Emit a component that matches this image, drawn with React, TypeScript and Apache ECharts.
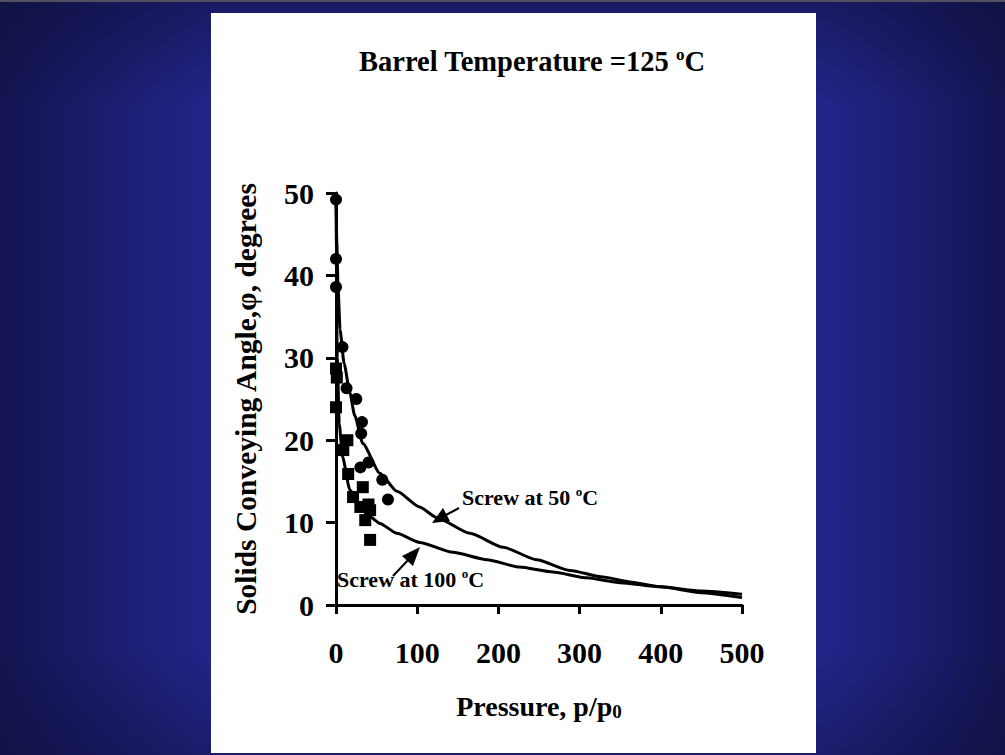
import React, { useEffect, useRef } from 'react';
import * as echarts from 'echarts';

// Axis ticks
const xTicks = [0, 100, 200, 300, 400, 500];
const yTicks = [0, 10, 20, 30, 40, 50];

// Measured points: screw at 50 °C (circles)
const circleX = [0, 0, 0, 8, 13, 25, 32, 31, 30, 40, 57, 64];
const circleY = [49.2, 42.0, 38.6, 31.3, 26.3, 25.0, 22.2, 20.8, 16.7, 17.3, 15.2, 12.8];

// Measured points: screw at 100 °C (squares)
const squareX = [0, 1, 0, 9, 14, 15, 21, 33, 30, 36, 42, 42, 40];
const squareY = [28.7, 27.6, 24.0, 18.8, 20.0, 15.9, 13.1, 14.3, 11.9, 10.3, 11.5, 7.9, 12.2];

// Fitted curve: screw at 50 °C
const fit50X = [0, 1, 2.5, 5, 10, 17, 23, 33, 54, 75, 103, 124, 165, 206, 247, 288, 329, 362, 400, 450, 500];
const fit50Y = [50, 44, 38.6, 33.4, 29.3, 25.8, 23.0, 19.6, 16.0, 13.8, 11.9, 10.6, 8.7, 7.0, 5.5, 4.2, 3.4, 2.8, 2.2, 1.7, 1.3];

// Fitted curve: screw at 100 °C
const fit100X = [0, 0.5, 1.5, 4, 8, 17, 33, 42, 54, 75, 103, 144, 186, 226, 267, 309, 350, 400, 450, 500];
const fit100Y = [50, 40, 30, 22, 18, 14, 11.5, 10.7, 9.9, 8.7, 7.6, 6.4, 5.5, 4.6, 4.0, 3.3, 2.7, 2.2, 1.5, 0.9];

const titleText = 'Barrel Temperature =125 {sup|o}C';
const label50 = 'Screw at 50 {sup|o}C';
const label100 = 'Screw at 100 {sup|o}C';
const xName = 'Pressure, p/p{sub|0}';
const yName = 'Solids Conveying Angle,φ, degrees';

const pairs = (xs: number[], ys: number[]) => xs.map((x, i) => [x, ys[i]]);

export default function App() {
  const ref = useRef<HTMLDivElement>(null);

  useEffect(() => {
    if (!ref.current) return;
    const chart = echarts.init(ref.current, null, { renderer: 'svg' });
    const serif = '"Liberation Serif", "Times New Roman", Times, serif';
    const supRich = {
      sup: { fontSize: 13, fontWeight: 'bold', fontFamily: serif, color: '#000', fill: '#000', verticalAlign: 'top', lineHeight: 13 },
    };
    const arrowStyle = { stroke: '#000', lineWidth: 2 };

    chart.setOption({
      animation: false,
      backgroundColor: 'transparent',
      grid: { left: 336, right: 263, top: 193, bottom: 150, containLabel: false },
      xAxis: {
        type: 'value',
        min: xTicks[0],
        max: xTicks[xTicks.length - 1],
        interval: xTicks[1] - xTicks[0],
        axisLine: { show: true, lineStyle: { color: '#000', width: 3 } },
        axisTick: { show: true, inside: false, length: 9, lineStyle: { color: '#000', width: 3 } },
        splitLine: { show: false },
        axisLabel: { margin: 32, fontSize: 30, fontWeight: 'bold', fontFamily: serif, color: '#000' },
        name: xName,
        nameLocation: 'middle',
        nameGap: 86,
        nameTextStyle: {
          fontSize: 28, fontWeight: 'bold', fontFamily: serif, color: '#000', lineHeight: 30,
          rich: { sub: { fontSize: 19, fontWeight: 'bold', fontFamily: serif, color: '#000', verticalAlign: 'bottom', lineHeight: 24 } },
        },
      },
      yAxis: {
        type: 'value',
        min: yTicks[0],
        max: yTicks[yTicks.length - 1],
        interval: yTicks[1] - yTicks[0],
        axisLine: { show: true, lineStyle: { color: '#000', width: 3 } },
        axisTick: { show: true, inside: false, length: 10, lineStyle: { color: '#000', width: 3 } },
        splitLine: { show: false },
        axisLabel: { margin: 22, fontSize: 30, fontWeight: 'bold', fontFamily: serif, color: '#000' },
        name: yName,
        nameLocation: 'middle',
        nameGap: 75,
        nameTextStyle: { fontSize: 29.5, fontWeight: 'bold', fontFamily: serif, color: '#000' },
      },
      series: [
        {
          type: 'line',
          data: pairs(fit50X, fit50Y),
          showSymbol: false,
          smooth: 0.2,
          smoothMonotone: 'x',
          lineStyle: { color: '#000', width: 3 },
          z: 3,
        },
        {
          type: 'line',
          data: pairs(fit100X, fit100Y),
          showSymbol: false,
          smooth: 0.2,
          smoothMonotone: 'x',
          lineStyle: { color: '#000', width: 3 },
          z: 3,
        },
        {
          type: 'scatter',
          data: pairs(circleX, circleY),
          symbol: 'circle',
          symbolSize: 12,
          itemStyle: { color: '#000', opacity: 1 },
          z: 4,
        },
        {
          type: 'scatter',
          data: pairs(squareX, squareY),
          symbol: 'rect',
          symbolSize: 12,
          itemStyle: { color: '#000', opacity: 1 },
          z: 4,
        },
      ],
      graphic: [
        { type: 'rect', z: -10, silent: true, shape: { x: 211, y: 13, width: 605, height: 740 }, style: { fill: '#ffffff' } },
        { type: 'rect', z: -10, silent: true, shape: { x: 0, y: 0, width: 1005, height: 2 }, style: { fill: '#50505e' } },
        {
          type: 'text', z: 10, x: 532, y: 61,
          style: {
            text: titleText, align: 'center', verticalAlign: 'middle',
            fontSize: 28.5, fontWeight: 'bold', fontFamily: serif, fill: '#000', lineHeight: 30,
            rich: { sup: { ...supRich.sup, fontSize: 17, lineHeight: 17 } },
          },
        },
        {
          type: 'text', z: 10, x: 462, y: 497,
          style: {
            text: label50, align: 'left', verticalAlign: 'middle',
            fontSize: 22, fontWeight: 'bold', fontFamily: serif, fill: '#000', lineHeight: 24,
            rich: supRich,
          },
        },
        {
          type: 'text', z: 10, x: 337, y: 579,
          style: {
            text: label100, align: 'left', verticalAlign: 'middle',
            fontSize: 22, fontWeight: 'bold', fontFamily: serif, fill: '#000', lineHeight: 24,
            rich: supRich,
          },
        },
        { type: 'line', z: 10, shape: { x1: 459, y1: 508, x2: 444, y2: 516 }, style: arrowStyle },
        { type: 'polygon', z: 10, shape: { points: [[432, 523], [450, 521], [443, 508]] }, style: { fill: '#000' } },
        { type: 'line', z: 10, shape: { x1: 393, y1: 576, x2: 410, y2: 558 }, style: arrowStyle },
        { type: 'polygon', z: 10, shape: { points: [[420, 547], [413, 566], [402, 556]] }, style: { fill: '#000' } },
      ],
    });
    return () => chart.dispose();
  }, []);

  return (
    <div
      style={{
        position: 'absolute',
        left: 0,
        top: 0,
        width: 1005,
        height: 755,
        background:
          'linear-gradient(to bottom, rgba(12,12,50,0.45) 0%, rgba(12,12,50,0) 14%, rgba(12,12,50,0) 86%, rgba(12,12,50,0.35) 100%), linear-gradient(to right, #141551 0%, #1b1c6c 10%, #23258a 21%, #23258a 82%, #1b1c6c 92%, #141551 100%)',
      }}
    >
      <div ref={ref} style={{ width: 1005, height: 755 }} />
    </div>
  );
}
